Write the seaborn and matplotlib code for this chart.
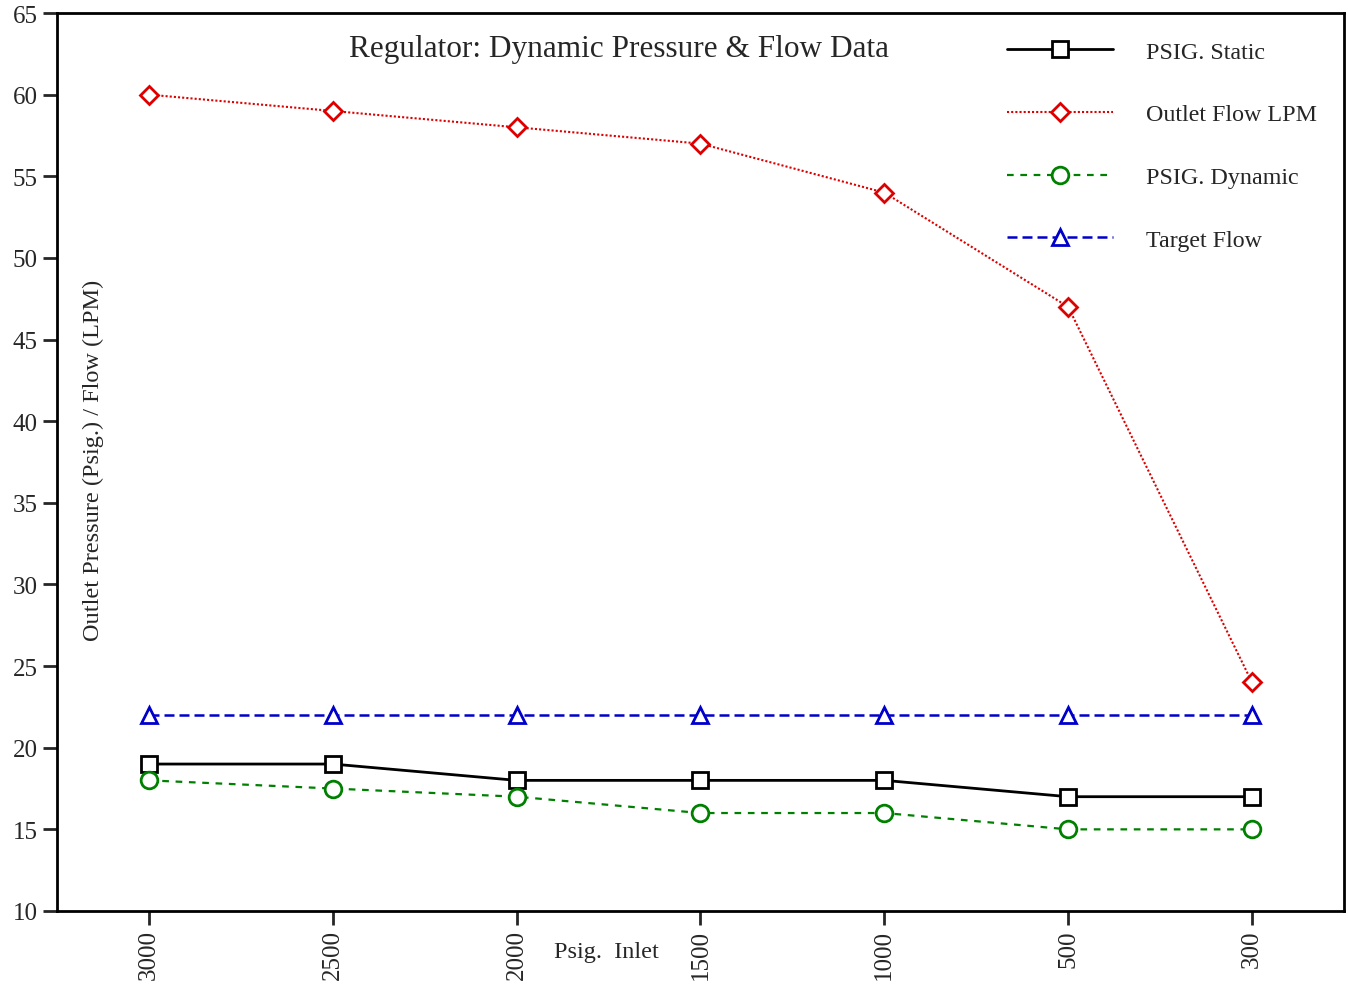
import pandas as pd
import matplotlib.pyplot as plt
import seaborn as sns

inlet = ['3000', '2500', '2000', '1500', '1000', '500', '300']
static = [19, 19, 18, 18, 18, 17, 17]
outlet_flow = [60, 59, 58, 57, 54, 47, 24]
dynamic = [18, 17.5, 17, 16, 16, 15, 15]
target_flow = [22, 22, 22, 22, 22, 22, 22]

sns.set_style('ticks')
plt.rcParams['font.family'] = ['Liberation Serif', 'DejaVu Serif']

df = pd.DataFrame({'pos': range(len(inlet)), 'inlet': inlet,
                   'PSIG. Static': static, 'Outlet Flow LPM': outlet_flow,
                   'PSIG. Dynamic': dynamic, 'Target Flow': target_flow})

fig = plt.figure(figsize=(13.48, 9.87), dpi=100)
ax = fig.add_axes([0.0423, 0.076, 0.9547, 0.9098])

styles = {
    'PSIG. Static': dict(color='black', ls='-', marker='s', ms=12, lw=2),
    'Outlet Flow LPM': dict(color='#dd0000', ls=(0, (1, 1)), marker='D', ms=9, lw=1.5),
    'PSIG. Dynamic': dict(color='#008000', ls=(0, (3, 3)), marker='o', ms=12, lw=1.6),
    'Target Flow': dict(color='#0000cc', ls=(0, (4, 2)), marker='^', ms=12, lw=1.8),
}
for name, st in styles.items():
    sns.lineplot(data=df, x='pos', y=name, ax=ax, label=name, color=st['color'],
                 linestyle=st['ls'], marker=st['marker'], markersize=st['ms'],
                 markerfacecolor='white', markeredgecolor=st['color'],
                 markeredgewidth=2, linewidth=st['lw'])

ax.set_xlim(-0.5, 6.5)
ax.set_ylim(10, 65)
ax.set_yticks(range(10, 66, 5))
ax.set_xticks(range(len(inlet)))
ax.set_xticklabels(inlet, rotation=90)
ax.set_xlabel('')
ax.set_ylabel('')
ax.tick_params(axis='y', labelsize=18, length=10, width=2, direction='out', pad=4)
ax.tick_params(axis='x', labelsize=18, length=10, width=2, direction='out', pad=3)
for sp in ax.spines.values():
    sp.set_linewidth(2)
    sp.set_color('black')

fig.text(0.459, 0.950, 'Regulator: Dynamic Pressure & Flow Data', ha='center', va='center', fontsize=22.5)
fig.text(0.069, 0.534, 'Outlet Pressure (Psig.) / Flow (LPM)', rotation=90,
         ha='center', va='center', fontsize=17.5)
fig.text(0.45, 0.035, 'Psig.  Inlet', ha='center', va='center', fontsize=17.5)

leg = ax.legend(loc='upper right', bbox_to_anchor=(0.9955, 0.993), frameon=False,
                fontsize=17.3, handlelength=4.4, handletextpad=1.35, labelspacing=1.7)

plt.savefig('out.png', dpi=100)
plt.close()
